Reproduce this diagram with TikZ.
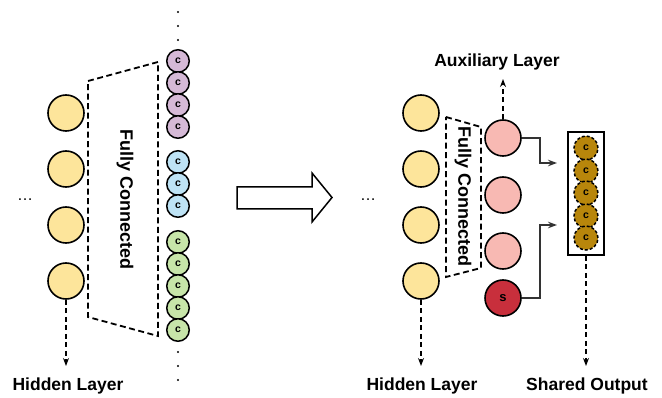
\documentclass[tikz,border=0pt]{standalone}
\usepackage{fontspec}
\setmainfont{Liberation Sans}
\usetikzlibrary{arrows.meta}

\definecolor{hidyellow}{HTML}{FDE59B}
\definecolor{cpurple}{HTML}{D5B9D6}
\definecolor{cblue}{HTML}{BEE3F5}
\definecolor{cgreen}{HTML}{C7E5A9}
\definecolor{auxpink}{HTML}{F8B9B3}
\definecolor{sred}{HTML}{C82F3C}
\definecolor{cgold}{HTML}{B8860B}
\definecolor{connc}{HTML}{333333}

\begin{document}
\begin{tikzpicture}[x=1pt,y=-1pt,
  hid/.style={circle, draw, line width=1.6pt, fill=hidyellow, minimum size=36pt, inner sep=0pt},
  aux/.style={circle, draw, line width=1.6pt, fill=auxpink, minimum size=36pt, inner sep=0pt},
  cls/.style={circle, draw, line width=1.5pt, minimum size=22.5pt, inner sep=0pt,
              font=\bfseries\fontsize{10.5}{10.5}\selectfont},
  outc/.style={cls, fill=cgold, dashed, dash pattern=on 3pt off 2pt, minimum size=24pt},
  lbl/.style={font=\bfseries\fontsize{17.5}{20}\selectfont},
  fclbl/.style={font=\bfseries\fontsize{18}{20}\selectfont, rotate=-90},
  fcbox/.style={dashed, dash pattern=on 6pt off 3.5pt, line width=1.8pt},
  dashout/.style={dashed, dash pattern=on 5pt off 3.5pt, line width=1.3pt, -{Stealth[length=8pt,width=6pt]}},
  conn/.style={line width=1.5pt, draw=connc, -{Stealth[length=9pt,width=6.5pt]}},
  vdot/.style={fill=black},
]
\useasboundingbox (0,0) rectangle (662,398);

% ---------- left: hidden layer into classifier units ----------
\foreach \y [count=\i] in {113,169,225,281}
  \node[hid] (lh\i) at (66,\y) {};
\node (ldots) at (25,200) {\fontsize{16}{16}\selectfont\dots};

\coordinate (lhlab) at (66,366);
\draw[dashout] (lh4.south) -- (lhlab);
\node[lbl] (lhidden) at (68,386) {Hidden Layer};

% fully connected trapezoid
\draw[fcbox] (88,81) -- (158,62) -- (158,336) -- (88,317) -- cycle;
\node[fclbl] (lfc) at (125,200) {Fully Connected};

% classifier column
\foreach \y [count=\i] in {61,83,105,127}
  \node[cls, fill=cpurple] (pc\i) at (178,\y) {c};
\foreach \y [count=\i] in {162,184,206}
  \node[cls, fill=cblue] (bc\i) at (178,\y) {c};
\foreach \y [count=\i] in {242,264,286,308,330}
  \node[cls, fill=cgreen] (gc\i) at (178,\y) {c};
\foreach \y in {12,26,40,352,366,380}
  \fill[vdot] (178,\y) circle (1.2pt);

% ---------- transition arrow ----------
\draw[line width=1.5pt, fill=white, line join=miter]
  (237,187) -- (312,187) -- (312,173) -- (332,197.5) -- (312,222) -- (312,209) -- (237,209) -- cycle;

% ---------- right: hidden layer, auxiliary layer, shared output ----------
\foreach \y [count=\i] in {113,169,225,281}
  \node[hid] (rh\i) at (421,\y) {};
\node (rdots) at (368,200) {\fontsize{16}{16}\selectfont\dots};

\coordinate (rhlab) at (421,366);
\draw[dashout] (rh4.south) -- (rhlab);
\node[lbl] (rhidden) at (422,386) {Hidden Layer};

\draw[fcbox] (446,117) -- (481,127) -- (481,268) -- (446,277) -- cycle;
\node[fclbl] (rfc) at (463,197) {Fully Connected};

\node[aux] (a1) at (503,138) {};
\node[aux] (a2) at (503,195) {};
\node[aux] (a3) at (503,251) {};
\node[circle, draw, line width=1.6pt, fill=sred, minimum size=36pt, inner sep=0pt,
      font=\bfseries\fontsize{13}{13}\selectfont] (s) at (503,298) {s};

\coordinate (auxtop) at (503,79);
\draw[dashout] (a1.north) -- (auxtop);
\node[lbl] (auxlab) at (497,62) {Auxiliary Layer};

% shared output box
\draw[line width=1.8pt, fill=white] (568,132) rectangle (604,255);
\foreach \y [count=\i] in {148,171,193,216,238}
  \node[outc] (oc\i) at (586,\y) {c};

\coordinate (in1) at (557,163);
\coordinate (in2) at (557,225);
\draw[conn] (a1.east) -- ++(18,0) |- (in1);
\draw[conn] (s.east) -- ++(18,0) |- (in2);

\coordinate (outlab) at (586,366);
\draw[dashout] (586,256) -- (outlab);
\node[lbl] (shared) at (587,386) {Shared Output};
\end{tikzpicture}
\end{document}
